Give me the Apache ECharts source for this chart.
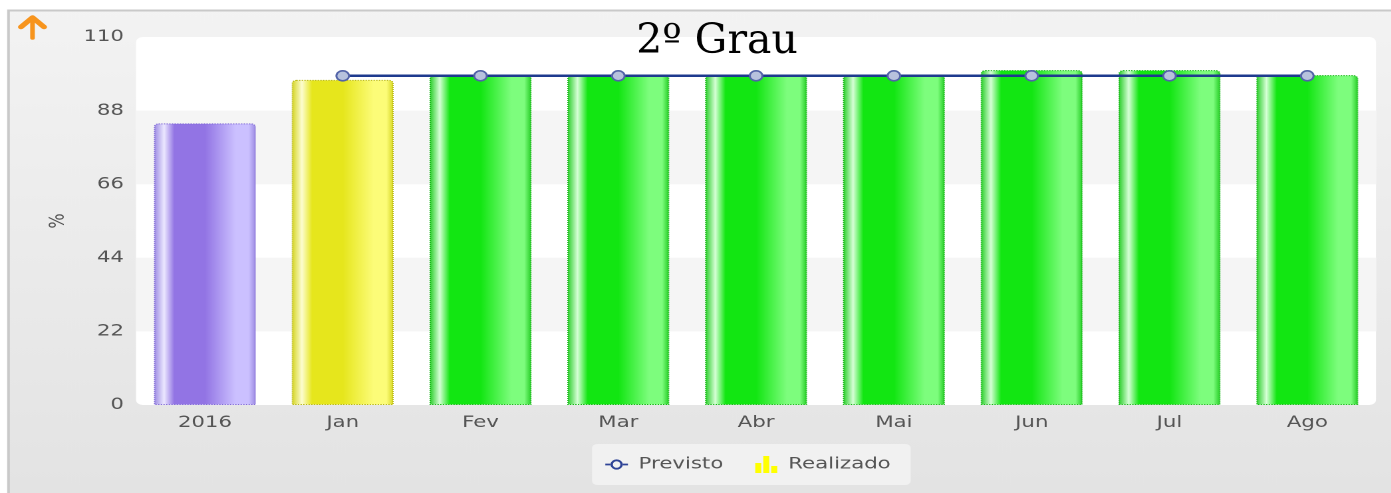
<!DOCTYPE html>
<html>
<head>
<meta charset="utf-8">
<script src="https://cdn.jsdelivr.net/npm/echarts@6/dist/echarts.min.js"></script>
<style>
html,body{margin:0;padding:0;background:#fff;overflow:hidden;}
#c{width:1046px;height:493px;transform:scaleX(1.33);transform-origin:0 0;}
</style>
</head>
<body>
<div id="c"></div>
<script>
const categories = ['2016','Jan','Fev','Mar','Abr','Mai','Jun','Jul','Ago'];
const realizado = [84.2, 97.2, 98.8, 98.8, 98.8, 98.8, 100.1, 100.1, 98.6];
const previsto = [null, 98.4, 98.4, 98.4, 98.4, 98.4, 98.4, 98.4, 98.4];
const yTicks = [0, 22, 44, 66, 88, 110];
const titleText = '2º Grau';
const yName = '%';

const SX = 1.33; // horizontal stretch of the reference picture

function cyl(edge, hi, base, light) {
  return {
    type: 'linear', x: 0, y: 0, x2: 1, y2: 0,
    colorStops: [
      {offset: 0, color: edge},
      {offset: 0.1, color: hi},
      {offset: 0.2, color: base},
      {offset: 0.5, color: base},
      {offset: 0.8, color: light},
      {offset: 0.93, color: light},
      {offset: 1, color: edge}
    ]
  };
}
const styles = {
  purple: {color: cyl('#9a88e2', '#ece8ff', '#9274e4', '#cbc0ff'), borderColor: '#7f68d6'},
  yellow: {color: cyl('#d4d41e', '#fdfdd0', '#e6e61c', '#fcfc78'), borderColor: '#b8b814'},
  green:  {color: cyl('#22cc22', '#d6ffd6', '#12e612', '#7dfd7d'), borderColor: '#16b816'}
};
function barStyle(i) {
  let s;
  if (previsto[i] == null) s = styles.purple;
  else if (realizado[i] < previsto[i]) s = styles.yellow;
  else s = styles.green;
  return {color: s.color, borderColor: s.borderColor, borderWidth: 1, borderType: 'dotted', borderRadius: [3,3,0,0]};
}

const lineIcon = 'path://M0,4.2h3.9v1.6h-3.9z M12.6,4.2h3.9v1.6h-3.9z ' +
  'M3.75,5 a4.5,5 0 1,0 9,0 a4.5,5 0 1,0 -9,0 z M5.5,5 a2.75,3.2 0 1,1 5.5,0 a2.75,3.2 0 1,1 -5.5,0 z';
const barIcon = 'path://M0,7h4.5v10h-4.5z M6,0h4.5v17h-4.5z M12,10h4.5v7h-4.5z';

const chart = echarts.init(document.getElementById('c'), null, {renderer: 'canvas', devicePixelRatio: 2});
chart.setOption({
  animation: false,
  backgroundColor: '#ffffff',
  graphic: [
    {type: 'rect', z: -10, shape: {x: 8.5 / SX, y: 10.5, width: 1100, height: 490},
     style: {fill: {type: 'linear', x: 0, y: 0, x2: 0, y2: 1,
       colorStops: [{offset: 0, color: '#f3f3f3'}, {offset: 1, color: '#e3e3e3'}]},
       stroke: '#c9c9c9', lineWidth: 2}},
    {type: 'rect', z: -9, shape: {x: 136 / SX, y: 37, width: 1240 / SX, height: 368, r: 5},
     style: {fill: '#ffffff'}},
    {type: 'polyline', z: 10, shape: {points: [[21 / SX, 27], [32.5 / SX, 17.5], [44 / SX, 27]]},
     style: {stroke: '#f7941d', lineWidth: 4.5, fill: null, lineCap: 'round', lineJoin: 'round'}},
    {type: 'line', z: 10, shape: {x1: 32.5 / SX, y1: 18, x2: 32.5 / SX, y2: 38},
     style: {stroke: '#f7941d', lineWidth: 3.5, lineCap: 'round'}},
    {type: 'text', z: 20, x: 717 / SX, y: 22, scaleX: 1 / SX,
     style: {text: titleText, textAlign: 'center', textVerticalAlign: 'top',
       font: '41px "DejaVu Serif"', fill: '#000'}}
  ],
  legend: {
    bottom: 8, left: 592 / SX,
    backgroundColor: '#f1f1f1', borderRadius: 4, padding: [12, 15, 12, 10],
    itemGap: 24, itemWidth: 17, itemHeight: 17,
    textStyle: {fontFamily: 'DejaVu Sans', fontSize: 16, color: '#555', padding: [0, 0, 0, 3]},
    data: [
      {name: 'Previsto', icon: lineIcon, itemStyle: {color: '#2e4396', borderWidth: 0}},
      {name: 'Realizado', icon: barIcon, itemStyle: {color: '#ffff00'}}
    ]
  },
  grid: {left: 136 / SX, right: 15 / SX, top: 37, bottom: 88, containLabel: false},
  xAxis: {
    type: 'category', data: categories,
    axisLine: {show: false}, axisTick: {show: false},
    axisLabel: {fontFamily: 'DejaVu Sans', fontSize: 16, color: '#555', margin: 10}
  },
  yAxis: {
    type: 'value', min: 0, max: 110, interval: 22,
    name: yName, nameLocation: 'middle', nameGap: 48, nameRotate: 90,
    nameTextStyle: {fontFamily: 'DejaVu Sans', fontSize: 16, color: '#555'},
    axisLine: {show: false}, axisTick: {show: false},
    splitLine: {show: false},
    splitArea: {show: true, areaStyle: {color: ['rgba(255,255,255,0)', '#f5f5f5']}},
    axisLabel: {fontFamily: 'DejaVu Sans', fontSize: 16, color: '#555', margin: 12 / SX,
      formatter: v => yTicks.includes(v) ? String(v) : ''}
  },
  series: [
    {
      name: 'Realizado', type: 'bar', barWidth: '74%',
      itemStyle: {color: '#ffff00'},
      data: realizado.map((v, i) => ({value: v, itemStyle: barStyle(i)}))
    },
    {
      name: 'Previsto', type: 'line', data: previsto, z: 5,
      symbol: 'circle', symbolSize: [9.5, 10],
      lineStyle: {color: '#1e3a8e', width: 2.5},
      itemStyle: {color: '#b7c2dd', borderColor: '#5263a8', borderWidth: 1.5}
    }
  ]
});
</script>
</body>
</html>
